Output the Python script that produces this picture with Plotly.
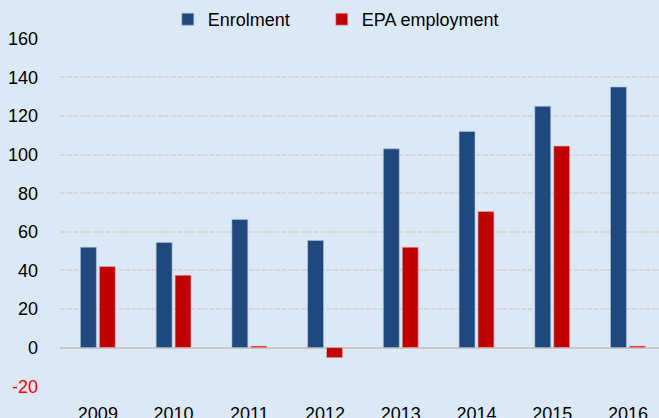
import plotly.graph_objects as go

years = ["2009", "2010", "2011", "2012", "2013", "2014", "2015", "2016"]
enrolment = [52, 54.5, 66.4, 55.5, 103, 112, 125, 135]
epa_employment = [42, 37.5, 0.8, -5.2, 52, 70.5, 104.4, 0.8]
y_ticks = [-20, 0, 20, 40, 60, 80, 100, 120, 140, 160]
y_tick_text = ['<span style="color:#ff0000">-20</span>'] + [str(v) for v in y_ticks[1:]]

bg = "#dbe9f6"
fig = go.Figure()
fig.add_trace(go.Bar(x=years, y=enrolment, name="Enrolment", legend="legend",
                     marker=dict(color="#1f497d", line=dict(color="#aebfd6", width=0.6))))
fig.add_trace(go.Bar(x=years, y=epa_employment, name="EPA employment", legend="legend2",
                     marker=dict(color="#c00000", line=dict(color="#e3b3b8", width=0.6))))

leg_common = dict(orientation="h", xanchor="left", y=1.0, yanchor="bottom",
                  bgcolor="rgba(0,0,0,0)", font=dict(size=18), itemwidth=30)

fig.update_layout(
    width=659, height=418,
    paper_bgcolor=bg, plot_bgcolor=bg,
    margin=dict(l=60, r=0, t=38, b=31, autoexpand=False),
    barmode="group", bargap=0.5, bargroupgap=0.16,
    font=dict(family="Liberation Sans, Arial, sans-serif", size=18, color="#000000"),
    showlegend=True,
    legend=dict(x=0.180, **leg_common),
    legend2=dict(x=0.437, **leg_common),
    xaxis=dict(range=[-0.5, 7.41], showgrid=False, zeroline=False, showline=False,
               ticks="outside", ticklen=10, tickcolor="rgba(0,0,0,0)",
               tickfont=dict(size=18), automargin=False),
    yaxis=dict(range=[-20.4, 160.4], tickvals=y_ticks, ticktext=y_tick_text,
               showgrid=True, gridcolor="#d6d6d6", griddash="5px,1.5px", gridwidth=1.5,
               zeroline=True, zerolinecolor="#c8c8c8", zerolinewidth=1.5,
               showline=False, ticks="", ticklabelstandoff=21,
               tickfont=dict(size=18), automargin=False),
)

fig.write_html("out.html", config={"displayModeBar": False},
               post_script="document.body.style.margin='0';document.body.style.overflow='hidden';")
